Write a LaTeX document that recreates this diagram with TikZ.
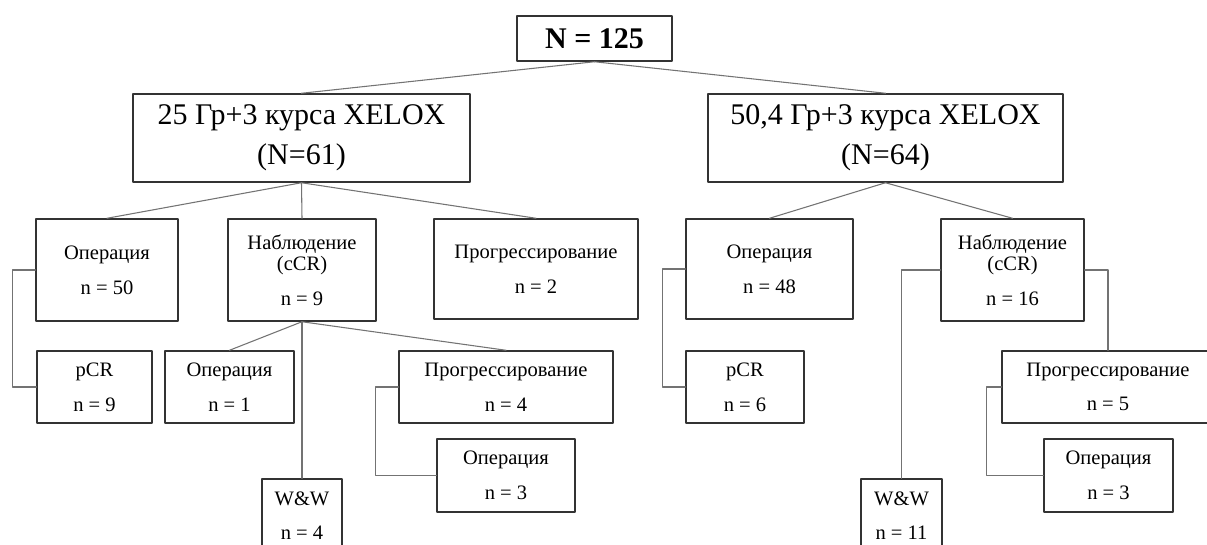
\documentclass[tikz,border=0pt]{standalone}
\usepackage{fontspec}
\setmainfont{Liberation Serif}
\begin{document}
\begin{tikzpicture}[x=0.75pt, y=-0.75pt, line join=round, line cap=round,
		box/.style={draw=black!80, line width=1.1pt, fill=white, align=center, inner sep=0pt},
		big/.style={font=\fontsize{22.5}{30}\selectfont},
		small/.style={font=\fontsize{15.4}{16}\selectfont},
		link/.style={draw=black!55, line width=0.8pt}]
	\def\bx#1#2#3#4#5#6#7{
		\node[box, #2, minimum width={(#5-#3)*0.75pt}, minimum height={(#6-#4)*0.75pt}] (#1) at ({(#3+#5)/2}, {(#4+#6)/2}) {#7};
	}
	\useasboundingbox (0,0) rectangle (1207,544);
	
	\bx{root}{big}{517}{16}{672}{61}{\bfseries N = 125}
	\bx{armA}{big}{133}{94}{470}{182}{25 Гр+3 курса XELOX\\(N=61)}
	\bx{armB}{big}{708}{94}{1063}{182}{50,4 Гр+3 курса XELOX\\(N=64)}
	
	\bx{opA}{small}{36}{219}{178}{321}{Операция\\[10pt]n = 50}
	\bx{obsA}{small}{228}{219}{376}{321}{Наблюдение\\(cCR)\\[10pt]n = 9}
	\bx{progA}{small}{434}{219}{638}{319}{Прогрессирование\\[10pt]n = 2}
	\bx{opB}{small}{686}{219}{853}{319}{Операция\\[10pt]n = 48}
	\bx{obsB}{small}{941}{219}{1084}{321}{Наблюдение\\(cCR)\\[10pt]n = 16}
	
	\bx{pcrA}{small}{37}{351}{152}{423}{pCR\\[10pt]n = 9}
	\bx{opobsA}{small}{165}{351}{294}{423}{Операция\\[10pt]n = 1}
	\bx{progobsA}{small}{399}{351}{613}{423}{Прогрессирование\\[10pt]n = 4}
	\bx{opprogA}{small}{437}{439}{575}{512}{Операция\\[10pt]n = 3}
	\bx{wwA}{small}{262}{479}{342}{552}{W\&W\\[10pt]n = 4}
	
	\bx{pcrB}{small}{686}{351}{804}{423}{pCR\\[10pt]n = 6}
	\bx{progobsB}{small}{1002}{351}{1214}{423}{Прогрессирование\\[10pt]n = 5}
	\bx{opprogB}{small}{1044}{439}{1173}{512}{Операция\\[10pt]n = 3}
	\bx{wwB}{small}{861}{479}{942}{552}{W\&W\\[10pt]n = 11}
	
	\foreach \a/\b in {root/armA, root/armB, armA/opA, armA/obsA, armA/progA, armB/opB, armB/obsB, obsA/opobsA, obsA/progobsA, obsA/wwA} {
		\draw[link] (\a.south) -- (\b.north);
	}
	\draw[link] (opA.west) -- ++(-23,0) |- (pcrA.west);
	\draw[link] (progobsA.west) -- ++(-23,0) |- (opprogA.west);
	\draw[link] (opB.west) -- ++(-23,0) |- (pcrB.west);
	\draw[link] (progobsB.west) -- ++(-15,0) |- (opprogB.west);
	\draw[link] (obsB.west) -| (wwB.north);
	\draw[link] (obsB.east) -| (progobsB.north);
\end{tikzpicture}
\end{document}
